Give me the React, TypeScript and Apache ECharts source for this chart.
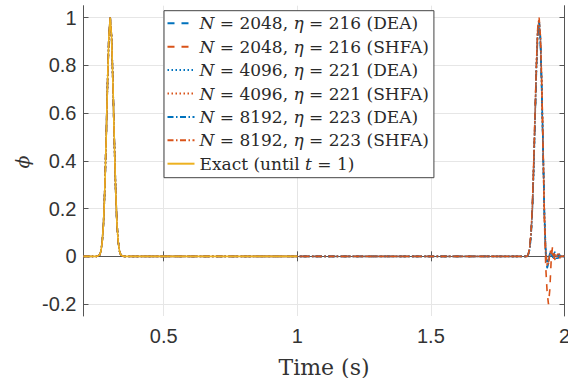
import React, { useEffect, useRef } from "react";
import * as echarts from "echarts";

// ---------- data ----------
const xTicks = [0.5, 1, 1.5, 2];
const yTicks = [-0.2, 0, 0.2, 0.4, 0.6, 0.8, 1];

// exact solution (until t = 1)
const exactT = [0.2, 0.25, 0.26, 0.265, 0.27, 0.275, 0.28, 0.285, 0.29, 0.295, 0.3, 0.305, 0.31, 0.315, 0.32, 0.325, 0.33, 0.335, 0.34, 0.35, 1.0];
const exactPhi = [0, 0, 0.005, 0.02, 0.06, 0.14, 0.29, 0.5, 0.73, 0.92, 1, 0.92, 0.73, 0.5, 0.29, 0.14, 0.06, 0.02, 0.005, 0, 0];

// numerical solutions: flat middle part
const midT = [0.4, 0.6, 0.8, 1.0, 1.2, 1.4, 1.6, 1.8];
const midPhi = [0, 0, 0, 0, 0, 0, 0, 0];

// numerical solutions: second pulse near t = 1.9
const lateT = [1.85, 1.86, 1.865, 1.87, 1.875, 1.88, 1.885, 1.89, 1.895, 1.9, 1.905, 1.91, 1.915, 1.92, 1.925, 1.93, 1.935, 1.94, 1.945, 1.95, 1.955, 1.96, 1.965, 1.97, 1.975, 1.98, 1.985, 1.99, 1.995, 2.0];
const dea2048 = [0, 0, 0.01, 0.04, 0.1, 0.21, 0.38, 0.58, 0.78, 0.93, 0.97, 0.88, 0.68, 0.42, 0.16, 0.0, -0.05, -0.03, 0.01, 0.02, -0.01, 0.01, 0.02, 0.0, -0.01, 0.01, 0.0, 0.01, 0.0, 0.0];
const shfa2048 = [0, 0, 0.01, 0.04, 0.1, 0.22, 0.4, 0.6, 0.8, 0.95, 0.99, 0.92, 0.72, 0.45, 0.15, -0.05, -0.15, -0.2, -0.14, -0.02, 0.04, 0.02, -0.02, 0.0, 0.01, 0.0, -0.01, 0.0, 0.01, 0.0];
const dea4096 = [0, 0, 0.01, 0.03, 0.09, 0.2, 0.37, 0.58, 0.79, 0.94, 0.98, 0.9, 0.7, 0.43, 0.17, 0.02, -0.03, -0.02, 0.01, 0.01, 0.0, 0.01, 0.0, -0.01, 0.0, 0.01, 0.0, 0.0, 0.0, 0.0];
const shfa4096 = [0, 0, 0.01, 0.04, 0.1, 0.21, 0.39, 0.6, 0.8, 0.95, 0.99, 0.91, 0.71, 0.44, 0.16, 0.0, -0.04, -0.03, 0.01, 0.03, 0.01, -0.01, 0.01, 0.0, 0.0, 0.01, 0.0, 0.0, 0.0, 0.0];
const dea8192 = [0, 0, 0.01, 0.03, 0.09, 0.2, 0.38, 0.59, 0.8, 0.95, 0.99, 0.91, 0.71, 0.44, 0.17, 0.02, -0.02, -0.02, 0.01, 0.01, 0.0, 0.0, 0.01, 0.0, 0.0, 0.0, 0.0, 0.0, 0.0, 0.0];
const shfa8192 = [0, 0, 0.01, 0.04, 0.1, 0.22, 0.4, 0.61, 0.81, 0.96, 1.0, 0.92, 0.72, 0.45, 0.16, 0.01, -0.03, -0.03, 0.01, 0.02, 0.01, 0.0, 0.01, 0.0, 0.0, 0.0, 0.0, 0.0, 0.0, 0.0];

const seriesNames = [
  "N=2048,η=216 (DEA)",
  "N=2048,η=216 (SHFA)",
  "N=4096,η=221 (DEA)",
  "N=4096,η=221 (SHFA)",
  "N=8192,η=223 (DEA)",
  "N=8192,η=223 (SHFA)",
  "Exact",
];
const legendLabels = [
  "{i|N} = 2048, {i|η} = 216 (DEA)",
  "{i|N} = 2048, {i|η} = 216 (SHFA)",
  "{i|N} = 4096, {i|η} = 221 (DEA)",
  "{i|N} = 4096, {i|η} = 221 (SHFA)",
  "{i|N} = 8192, {i|η} = 223 (DEA)",
  "{i|N} = 8192, {i|η} = 223 (SHFA)",
  "Exact (until {i|t} = 1)",
];
const yTitle = "ϕ";
const xTitle = "Time (s)";

const BLUE = "#0072BD";
const ORANGE = "#D95319";
const YELLOW = "#EDB120";

function zip(t: number[], v: number[]) {
  return t.map((x, i) => [x, v[i]]);
}
function numerical(late: number[]) {
  return [...zip(exactT.slice(0, 20), exactPhi.slice(0, 20)), ...zip(midT, midPhi), ...zip(lateT, late)];
}

export default function App() {
  const ref = useRef<HTMLDivElement>(null);
  useEffect(() => {
    if (!ref.current) return;
    const chart = echarts.init(ref.current, undefined, { renderer: "svg" });
    const axisColor = "#555";
    const labelColor = "#333";
    const dashed = [7, 7];
    const dotted = [1.5, 2.5];
    const dashDot = [6, 2.5, 1.5, 2.5];
    const mk = (name: string, data: number[][], color: string, type: any) => ({
      name,
      type: "line",
      data,
      symbol: "none",
      lineStyle: { color, width: 1.6, type },
      itemStyle: { color },
      z: 3,
    });
    chart.setOption({
      animation: false,
      grid: { left: 83.5, right: 3.5, top: 5.7, bottom: 62, outerBoundsMode: "none" },
      graphic: [
        {
          type: "text",
          x: 22,
          y: 162,
          rotation: Math.PI / 2,
          style: {
            text: yTitle,
            font: 'italic 19px "DejaVu Serif"',
            fill: labelColor,
            align: "center",
            verticalAlign: "middle",
          },
        },
      ],
      xAxis: [
        {
          type: "value",
          min: 0.2,
          max: 2,
          name: xTitle,
          nameLocation: "middle",
          nameGap: 40,
          nameTextStyle: { fontFamily: "DejaVu Serif", fontSize: 22, color: labelColor },
          axisLine: { lineStyle: { color: axisColor, width: 1 } },
          axisTick: { inside: true, length: 5, customValues: xTicks, lineStyle: { color: axisColor } },
          axisLabel: { customValues: xTicks, fontFamily: "Liberation Sans, Arial, sans-serif", fontSize: 20, color: labelColor, margin: 10 },
          splitLine: { show: true, lineStyle: { color: "#e6e6e6", width: 1 } },
        },
        {
          type: "value",
          position: "top",
          min: 0.2,
          max: 2,
          axisLine: { lineStyle: { color: axisColor, width: 1 } },
          axisTick: { inside: true, length: 5, customValues: xTicks, lineStyle: { color: axisColor } },
          axisLabel: { show: false },
          splitLine: { show: false },
        },
      ],
      yAxis: [
        {
          type: "value",
          min: -0.25,
          max: 1.05,
          axisLine: { show: true, lineStyle: { color: axisColor, width: 1 } },
          axisTick: { show: true, inside: true, length: 5, customValues: yTicks, lineStyle: { color: axisColor } },
          axisLabel: { customValues: yTicks, fontFamily: "Liberation Sans, Arial, sans-serif", fontSize: 20, color: labelColor, margin: 7 },
          splitLine: { show: true, lineStyle: { color: "#e6e6e6", width: 1 } },
        },
        {
          type: "value",
          position: "right",
          min: -0.25,
          max: 1.05,
          axisLine: { show: true, lineStyle: { color: axisColor, width: 1 } },
          axisTick: { show: true, inside: true, length: 5, customValues: yTicks, lineStyle: { color: axisColor } },
          axisLabel: { show: false },
          splitLine: { show: false },
        },
      ],
      legend: {
        orient: "vertical",
        left: 164,
        top: 10.7,
        padding: [2.6, 5, 4, 2.5],
        itemWidth: 27,
        itemHeight: 14,
        itemGap: 3.4,
        backgroundColor: "#fff",
        borderColor: "#444",
        borderWidth: 1,
        borderRadius: 0,
        selectedMode: false,
        itemStyle: { color: "rgba(0,0,0,0)", borderColor: "rgba(0,0,0,0)", borderWidth: 0, opacity: 0 },
        data: seriesNames,
        formatter: (name: string) => legendLabels[seriesNames.indexOf(name)],
        textStyle: {
          fontFamily: "DejaVu Serif",
          fontSize: 17,
          color: "#2a2a2a",
          lineHeight: 20,
          rich: { i: { fontFamily: "DejaVu Serif", fontStyle: "italic", fontSize: 17, color: "#2a2a2a", lineHeight: 20 } },
        },
      },
      series: [
        mk(seriesNames[0], numerical(dea2048), BLUE, dashed),
        mk(seriesNames[1], numerical(shfa2048), ORANGE, dashed),
        mk(seriesNames[2], numerical(dea4096), BLUE, dotted),
        mk(seriesNames[3], numerical(shfa4096), ORANGE, dotted),
        mk(seriesNames[4], numerical(dea8192), BLUE, dashDot),
        mk(seriesNames[5], numerical(shfa8192), ORANGE, dashDot),
        mk(seriesNames[6], zip(exactT, exactPhi), YELLOW, "solid"),
      ],
    });
    return () => chart.dispose();
  }, []);
  return <div ref={ref} style={{ position: "absolute", left: 0, top: 0, width: 568, height: 378 }} />;
}
